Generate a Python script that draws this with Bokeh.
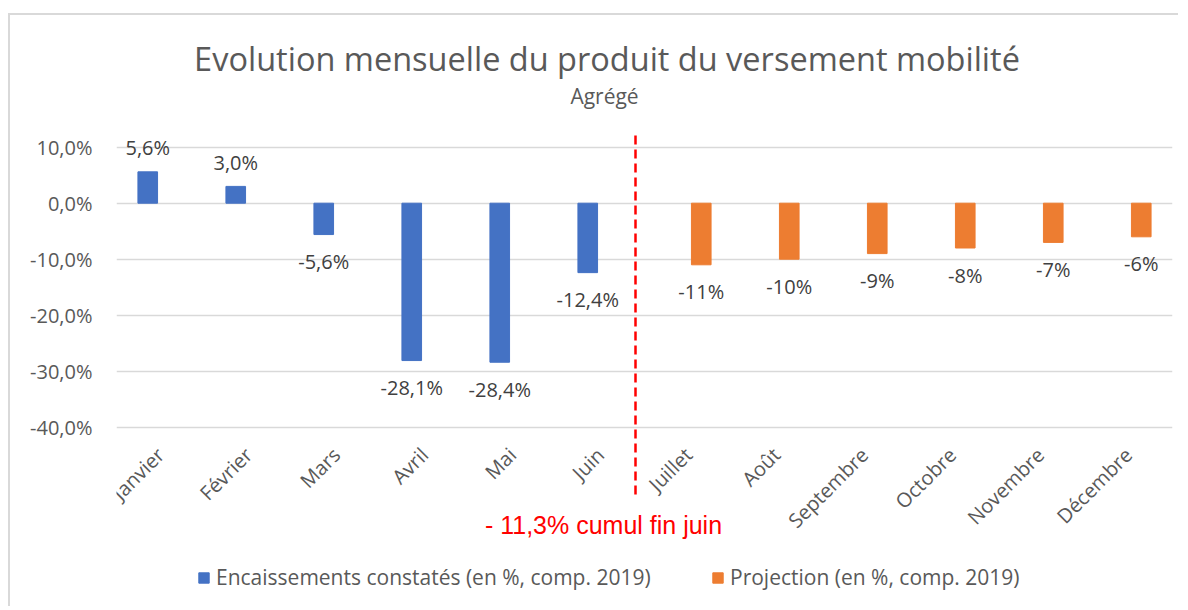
import math
from bokeh.plotting import figure
from bokeh.models import (ColumnDataSource, FactorRange, Range1d, FixedTicker,
                          CategoricalAxis, Legend, LegendItem, CustomJSTickFormatter)
from bokeh.transform import dodge
from bokeh.core.properties import value
from bokeh.embed import file_html
from bokeh.resources import INLINE

# ---------------- data ----------------
months = ["Janvier", "Février", "Mars", "Avril", "Mai", "Juin",
          "Juillet", "Août", "Septembre", "Octobre", "Novembre", "Décembre"]
encaissements = [5.6, 3.0, -5.6, -28.1, -28.4, -12.4]          # Janvier..Juin
projection = [-11, -10, -9, -8, -7, -6]                         # Juillet..Décembre
y_ticks = [10, 0, -10, -20, -30, -40]
series_names = ["Encaissements constatés (en %, comp. 2019)",
                "Projection (en %, comp. 2019)"]
title_text = "Evolution mensuelle du produit du versement mobilité"
subtitle_text = "Agrégé"
note_text = "- 11,3% cumul fin juin"

# ---------------- layout / style ----------------
BLUE, ORANGE = "#4472C4", "#ED7D31"
GREY_TXT, DARK_TXT, GRID = "#595959", "#404040", "#D9D9D9"
FONT = "Open Sans"
CANVAS_X, CANVAS_Y = 10, 15          # canvas origin on the page (after css border)
W, H = 1170, 593
FRAME_L, FRAME_R, FRAME_T, FRAME_B = 116, 1172, 15, 598
ZERO_Y, PX_PER_PCT = 202.7, 5.6
CAT_W = (FRAME_R - FRAME_L) / len(months)
DODGE, BAR_W = 0.145, 0.223


def y_at(py):
    return (ZERO_Y - py) / PX_PER_PCT


def x_at(px):
    return (px - FRAME_L) / CAT_W


p = figure(x_range=FactorRange(factors=months),
           y_range=Range1d(y_at(FRAME_B), y_at(FRAME_T)),
           width=W, height=H, output_backend="svg", toolbar_location=None,
           min_border_left=FRAME_L - CANVAS_X,
           min_border_right=W - (FRAME_R - CANVAS_X),
           min_border_top=FRAME_T - CANVAS_Y,
           min_border_bottom=H - (FRAME_B - CANVAS_Y),
           x_axis_location=None, outline_line_color=None)
p.styles = {"border-left": "2px solid #D9D9D9", "border-top": "2px solid #D9D9D9",
            "margin-top": "13px", "margin-left": "8px"}

# y axis
p.yaxis.ticker = FixedTicker(ticks=y_ticks)
p.yaxis.formatter = CustomJSTickFormatter(code="return tick.toFixed(1).replace('.', ',') + '%';")
p.yaxis.axis_line_color = None
p.yaxis.major_tick_line_color = None
p.yaxis.minor_tick_line_color = None
p.yaxis.major_tick_out = 0
p.yaxis.major_label_standoff = 24
p.yaxis.major_label_text_font = FONT
p.yaxis.major_label_text_font_size = "20px"
p.yaxis.major_label_text_color = GREY_TXT
p.ygrid.ticker = FixedTicker(ticks=y_ticks)
p.ygrid.grid_line_color = GRID
p.ygrid.grid_line_width = 1.5
p.xgrid.visible = False

# x axis drawn at the bottom gridline
xaxis = CategoricalAxis(fixed_location=min(y_ticks),
                        major_label_orientation=math.pi / 4,
                        axis_line_color=None, major_tick_line_color=None,
                        major_tick_out=0, major_label_standoff=24,
                        major_label_text_font=FONT,
                        major_label_text_font_size="20px",
                        major_label_text_color=GREY_TXT)
p.add_layout(xaxis, "below")


def fmt1(v):
    return f"{v:.1f}%".replace(".", ",")


def fmt0(v):
    return f"{v:.0f}%"


src_b = ColumnDataSource(dict(month=months[:len(encaissements)], val=encaissements,
                              label=[fmt1(v) for v in encaissements],
                              off=[-24 if v >= 0 else 27 for v in encaissements]))
src_o = ColumnDataSource(dict(month=months[len(encaissements):], val=projection,
                              label=[fmt0(v) for v in projection],
                              off=[-24 if v >= 0 else 27 for v in projection]))

rb = p.vbar(x=dodge("month", -DODGE, range=p.x_range), top="val", bottom=0,
            width=BAR_W, fill_color=BLUE, line_color=BLUE, source=src_b)
ro = p.vbar(x=dodge("month", DODGE, range=p.x_range), top="val", bottom=0,
            width=BAR_W, fill_color=ORANGE, line_color=ORANGE, source=src_o)

for src, d in ((src_b, -DODGE), (src_o, DODGE)):
    p.text(x=dodge("month", d, range=p.x_range), y="val", text="label", y_offset="off",
           text_align="center", text_baseline="middle", text_font=value(FONT),
           text_font_size="20px", text_color=DARK_TXT, source=src)

# red dashed separator + note
p.segment(x0=[x_at(635)], y0=[y_at(135)], x1=[x_at(635)], y1=[y_at(495)],
          line_color="#FF0000", line_width=2.5, line_dash="9 5")
p.text(x=[x_at(603)], y=[y_at(524)], text=[note_text], text_align="center",
       text_baseline="middle", text_font=value("Liberation Sans"),
       text_font_size="25px", text_color="#FF0000")

# titles
p.text(x=[x_at(606.5)], y=[y_at(57.5)], text=[title_text], text_align="center",
       text_baseline="middle", text_font=value(FONT), text_font_size="32.5px",
       text_color=GREY_TXT)
p.text(x=[x_at(604)], y=[y_at(95)], text=[subtitle_text], text_align="center",
       text_baseline="middle", text_font=value(FONT), text_font_size="21px",
       text_color=GREY_TXT)

# legends
for rend, name, lx in ((rb, series_names[0], 197 - FRAME_L), (ro, series_names[1], 711 - FRAME_L)):
    leg = Legend(items=[LegendItem(label=name, renderers=[rend])], location=(lx, 7),
                 orientation="horizontal", padding=0, margin=0,
                 border_line_color=None, background_fill_alpha=0,
                 glyph_width=13, glyph_height=13, label_height=13, label_standoff=6,
                 label_text_font=FONT, label_text_font_size="21px",
                 label_text_color=GREY_TXT, label_text_baseline="middle")
    p.add_layout(leg)

open("out.html", "w").write(file_html(p, INLINE))
